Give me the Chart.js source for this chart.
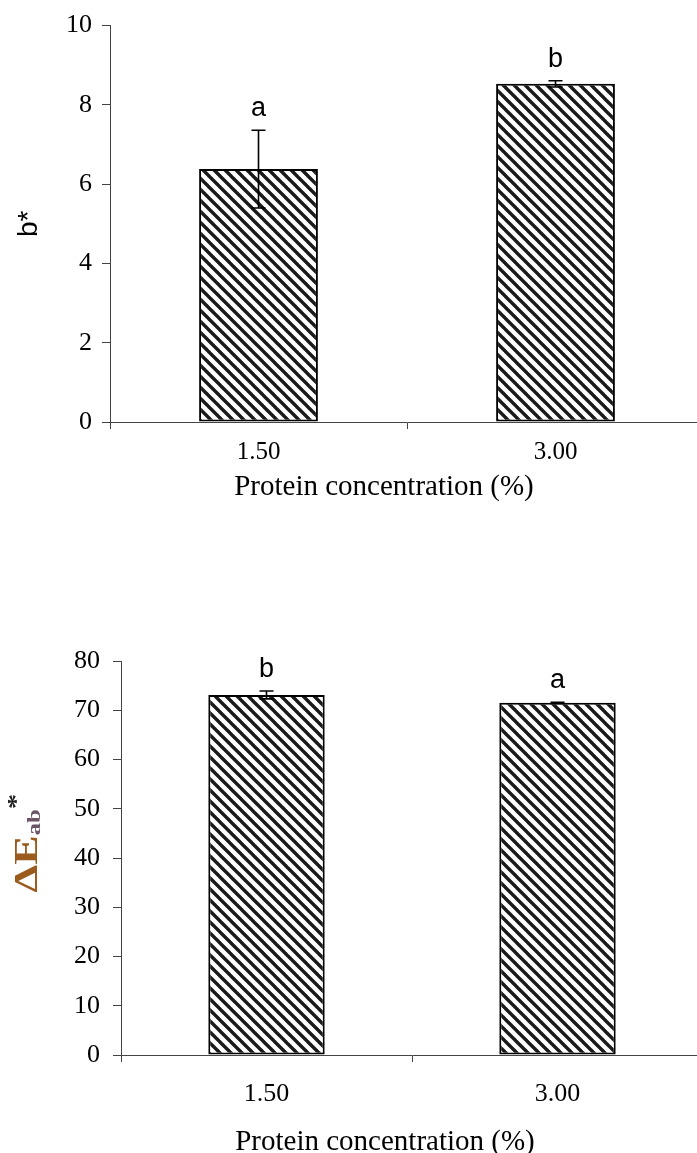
<!DOCTYPE html>
<html>
<head>
<meta charset="utf-8">
<script src="https://cdn.jsdelivr.net/npm/chart.js@4.4.1/dist/chart.umd.min.js"></script>
<style>
  html, body { margin: 0; padding: 0; background: #fff; width: 697px; height: 1153px; overflow: hidden; }
  .panel { position: absolute; left: 0; width: 720px; }
</style>
</head>
<body>
<div class="panel" style="top:0px;height:504px"><canvas id="chartB" width="720" height="504"></canvas></div>
<div class="panel" style="top:580px;height:579px"><canvas id="chartDE" width="720" height="579"></canvas></div>
<script>
// Protein concentration groups (x categories)
const concentrations = ['1.50', '3.00'];

// b* colour value: means, standard deviations, significance letters
const bMeans = [6.38, 8.53];
const bErrors = [0.98, 0.08];
const bLetters = ['a', 'b'];
const bAxis = [0, 10, 2];       // min, max, step

// Total colour difference ΔE*ab: means, standard deviations, letters
const deMeans = [73.1, 71.5];
const deErrors = [0.8, 0.1];
const deLetters = ['b', 'a'];
const deAxis = [0, 80, 10];     // min, max, step

const xTitle = 'Protein concentration (%)';

const SERIF = '"Liberation Serif", "Times New Roman", serif';
const SANS = '"Liberation Sans", Arial, sans-serif';

Chart.defaults.color = '#000';

// Diagonal "\\" hatch fill used for the bars
function hatchPattern() {
  const s = 11;
  const c = document.createElement('canvas');
  c.width = s; c.height = s;
  const g = c.getContext('2d');
  g.fillStyle = '#fff';
  g.fillRect(0, 0, s, s);
  g.strokeStyle = '#1a1a1a';
  g.lineWidth = 3.4;
  for (const k of [-1, 0, 1]) {
    g.beginPath();
    g.moveTo(k * s - 1, -1);
    g.lineTo(k * s + s + 1, s + 1);
    g.stroke();
  }
  return g.createPattern(c, 'repeat');
}

// Error bars with caps plus the significance letter above each bar
const errorBars = {
  id: 'errorBars',
  afterDatasetsDraw(chart, args, opts) {
    const { ctx } = chart;
    const yScale = chart.scales.y;
    const ds = chart.data.datasets[0];
    const meta = chart.getDatasetMeta(0);
    ctx.save();
    ctx.strokeStyle = '#000';
    ctx.lineWidth = 1.6;
    meta.data.forEach((bar, i) => {
      const v = ds.data[i];
      const e = opts.errors[i];
      const top = yScale.getPixelForValue(v + e);
      const bot = yScale.getPixelForValue(v - e);
      const x = bar.x;
      const cap = 7;
      ctx.beginPath();
      ctx.moveTo(x, top); ctx.lineTo(x, bot);
      ctx.moveTo(x - cap, top); ctx.lineTo(x + cap, top);
      ctx.moveTo(x - cap, bot); ctx.lineTo(x + cap, bot);
      ctx.stroke();
      ctx.fillStyle = '#000';
      ctx.font = '27px ' + SANS;
      ctx.textAlign = 'center';
      ctx.textBaseline = 'alphabetic';
      ctx.fillText(opts.letters[i], x, top - 14);
    });
    ctx.restore();
  }
};

// Horizontal axis title, placed under the tick labels
const xAxisTitle = {
  id: 'xAxisTitle',
  afterDraw(chart, args, opts) {
    if (!opts.text) return;
    const { ctx } = chart;
    ctx.save();
    ctx.font = '29px ' + SERIF;
    ctx.fillStyle = '#000';
    ctx.textAlign = 'center';
    ctx.textBaseline = 'middle';
    ctx.fillText(opts.text, opts.x, opts.y);
    ctx.restore();
  }
};

// Rotated y-axis title made of several styled runs (for sub/superscripts)
const richYTitle = {
  id: 'richYTitle',
  afterDraw(chart, args, opts) {
    if (!opts.parts) return;
    const { ctx } = chart;
    const stretch = opts.stretch || 1;
    ctx.save();
    let total = 0;
    for (const p of opts.parts) { ctx.font = p.font; total += ctx.measureText(p.text).width; }
    ctx.translate(opts.x, opts.y);
    ctx.rotate(-Math.PI / 2);
    ctx.scale(stretch, 1);
    ctx.textBaseline = 'alphabetic';
    ctx.textAlign = 'left';
    let pos = -total / 2;
    for (const p of opts.parts) {
      ctx.font = p.font;
      ctx.fillStyle = p.color;
      ctx.fillText(p.text, pos, p.dy);
      pos += ctx.measureText(p.text).width;
    }
    ctx.restore();
  }
};

function barChart(canvasId, cfg) {
  const [yMin, yMax, yStep] = cfg.axis;
  return new Chart(document.getElementById(canvasId), {
    type: 'bar',
    data: {
      labels: concentrations,
      datasets: [{
        data: cfg.means,
        backgroundColor: hatchPattern(),
        borderColor: '#000',
        borderWidth: 2,
        borderSkipped: false,
        barPercentage: 0.4,
        categoryPercentage: 1.0
      }]
    },
    options: {
      responsive: false,
      animation: false,
      events: [],
      layout: { padding: { top: cfg.padTop, right: cfg.padRight, left: 0, bottom: 0 } },
      plugins: {
        legend: { display: false },
        tooltip: { enabled: false },
        errorBars: { errors: cfg.errors, letters: cfg.letters },
        xAxisTitle: { text: xTitle, x: cfg.titleX, y: cfg.titleY },
        richYTitle: cfg.richTitle || {}
      },
      scales: {
        x: {
          type: 'category',
          offset: true,
          afterFit: s => { s.height = cfg.xHeight; },
          grid: { offset: true, drawOnChartArea: false, drawTicks: true, tickLength: 7, color: '#444', lineWidth: 1 },
          border: { display: true, color: '#444', width: 1 },
          ticks: { font: { family: SERIF, size: cfg.xTickSize }, padding: cfg.xTickPad, color: '#000' },
          title: { display: false }
        },
        y: {
          min: yMin, max: yMax,
          afterFit: s => { s.width = cfg.axisLeft; },
          grid: { drawOnChartArea: false, drawTicks: true, tickLength: 8, color: '#444', lineWidth: 1 },
          border: { display: true, color: '#444', width: 1 },
          ticks: { stepSize: yStep, font: { family: SERIF, size: 26 }, padding: cfg.yTickPad, color: '#000' },
          title: cfg.yTitle
            ? { display: true, text: cfg.yTitle, font: { family: SANS, size: 28 }, color: '#000', padding: { top: 12, bottom: 0 } }
            : { display: false }
        }
      }
    },
    plugins: [errorBars, xAxisTitle, richYTitle]
  });
}

barChart('chartB', {
  means: bMeans, errors: bErrors, letters: bLetters, axis: bAxis,
  padTop: 25, padRight: 16, axisLeft: 110, xHeight: 82,
  xTickSize: 25, xTickPad: 8, yTickPad: 10,
  titleX: 384, titleY: 487,
  yTitle: 'b*'
});

barChart('chartDE', {
  means: deMeans, errors: deErrors, letters: deLetters, axis: deAxis,
  padTop: 81, padRight: 17, axisLeft: 121, xHeight: 104,
  xTickSize: 26, xTickPad: 17, yTickPad: 13,
  titleX: 385, titleY: 562,
  richTitle: {
    x: 37, y: 263, stretch: 1.3,
    parts: [
      { text: 'ΔE', font: 'bold 34px ' + SERIF, color: '#9a5b1c', dy: 0 },
      { text: 'ab', font: 'bold 19px ' + SERIF, color: '#6a5468', dy: 3 },
      { text: '*', font: 'bold 24px ' + SERIF, color: '#222', dy: -14 }
    ]
  }
});
</script>
</body>
</html>
